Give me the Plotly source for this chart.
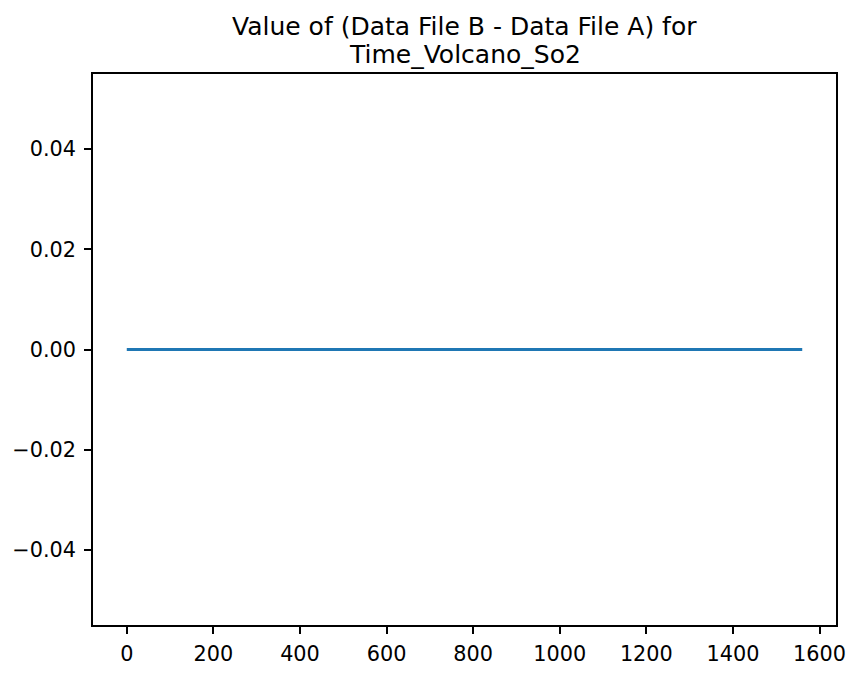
import plotly.graph_objects as go

# Data
time_steps = [0, 1560]
difference_values = [0.0, 0.0]

x_tick_values = [0, 200, 400, 600, 800, 1000, 1200, 1400, 1600]
x_tick_labels = ["0", "200", "400", "600", "800", "1000", "1200", "1400", "1600"]
y_tick_values = [-0.04, -0.02, 0.0, 0.02, 0.04]
y_tick_labels = ["\u22120.04", "\u22120.02", "0.00", "0.02", "0.04"]

title_lines = ["Value of (Data File B - Data File A) for", "Time_Volcano_So2"]

font_family = "DejaVu Sans"

fig = go.Figure()
fig.add_trace(go.Scatter(
    x=time_steps,
    y=difference_values,
    mode="lines",
    line=dict(color="#1f77b4", width=3.1),
    showlegend=False,
    hoverinfo="skip",
))

axis_common = dict(
    showline=True,
    linecolor="black",
    linewidth=1.6,
    mirror=True,
    showgrid=False,
    zeroline=False,
    ticks="outside",
    ticklen=7,
    tickwidth=1.6,
    tickcolor="black",
    tickfont=dict(family=font_family, size=20.8, color="black"),
)

fig.update_xaxes(
    range=[-78, 1638],
    tickmode="array",
    tickvals=x_tick_values,
    ticktext=x_tick_labels,
    ticklabelstandoff=2,
    **axis_common,
)
fig.update_yaxes(
    range=[-0.055, 0.055],
    tickmode="array",
    tickvals=y_tick_values,
    ticktext=y_tick_labels,
    ticklabelstandoff=4,
    **axis_common,
)

for line_text, shift in zip(title_lines, [48, 20]):
    fig.add_annotation(
        text=line_text,
        xref="paper", yref="paper",
        x=0.5, y=1,
        xanchor="center", yanchor="middle",
        yshift=shift,
        showarrow=False,
        font=dict(family=font_family, size=25, color="black"),
    )

fig.update_layout(
    width=862,
    height=678,
    margin=dict(l=93, r=26, t=74, b=48),
    paper_bgcolor="white",
    plot_bgcolor="white",
)

fig.write_html(
    "out.html",
    config={"displayModeBar": False},
    post_script="document.body.style.margin='0px';",
)
